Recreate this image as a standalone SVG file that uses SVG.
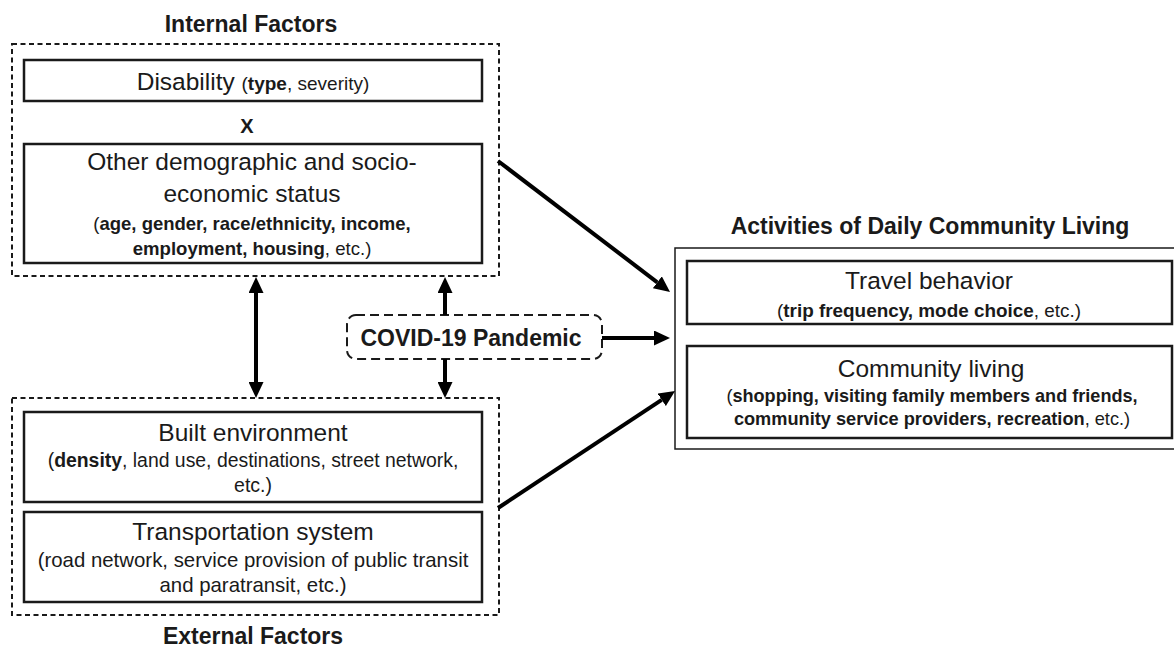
<svg xmlns="http://www.w3.org/2000/svg" width="1174" height="648" viewBox="0 0 1174 648">
<style>
text{font-family:"Liberation Sans",Arial,sans-serif;fill:#1a1a1a;text-anchor:middle}
.title{font-size:23px;font-weight:bold}
.big{font-size:24.5px}
.sm{font-size:19px}
.b{font-weight:bold}
.box{fill:#fff;stroke:#1a1a1a;stroke-width:2.5}
.grp{fill:none;stroke:#1a1a1a;stroke-width:2;stroke-dasharray:5 3.5}
.covid{fill:#fff;stroke:#1a1a1a;stroke-width:2;stroke-dasharray:9 5}
.outer{fill:#fff;stroke:#1a1a1a;stroke-width:1.5}
.arr{stroke:#000;stroke-width:4;fill:none;marker-end:url(#ah)}
.dbl{marker-start:url(#ah)}
</style>
<defs>
<marker id="ah" markerUnits="userSpaceOnUse" markerWidth="16" markerHeight="15" refX="0" refY="7.5" orient="auto-start-reverse">
<path d="M0,0 L16,7.5 L0,15 z" fill="#000"/>
</marker>
</defs>
<rect width="1174" height="648" fill="#fff"/>

<g id="internal-factors">
<text class="title" x="251" y="32">Internal Factors</text>
<rect class="grp" x="12" y="44" width="487" height="232"/>
</g>

<g id="disability">
<rect class="box" x="24" y="60" width="458" height="41"/>
<text x="253" y="90"><tspan class="big">Disability </tspan><tspan class="sm">(<tspan class="b">type</tspan>, severity)</tspan></text>
</g>

<g id="x-label">
<text class="b" x="247" y="133" style="font-size:20px">X</text>
</g>

<g id="demographic">
<rect class="box" x="24" y="144" width="458" height="119"/>
<text class="big" x="252" y="170">Other demographic and socio-</text>
<text class="big" x="252" y="202">economic status</text>
<text x="252" y="230" style="font-size:18.5px">(<tspan class="b">age, gender, race/ethnicity, income,</tspan></text>
<text x="252" y="255" style="font-size:18.6px"><tspan class="b">employment, housing</tspan>, etc.)</text>
</g>

<g id="external-factors">
<rect class="grp" x="12" y="398" width="487" height="217"/>
<text class="title" x="253" y="644">External Factors</text>
</g>

<g id="built-environment">
<rect class="box" x="24" y="412" width="458" height="90"/>
<text class="big" x="253" y="441">Built environment</text>
<text x="253" y="467" style="font-size:19.4px">(<tspan class="b">density</tspan>, land use, destinations, street network,</text>
<text x="253" y="492" style="font-size:19.5px">etc.)</text>
</g>

<g id="transportation">
<rect class="box" x="24" y="512" width="458" height="90"/>
<text class="big" x="253" y="540">Transportation system</text>
<text x="253" y="567" style="font-size:20.4px">(road network, service provision of public transit</text>
<text x="253" y="592" style="font-size:20.4px">and paratransit, etc.)</text>
</g>

<g id="covid">
<rect class="covid" x="347" y="315" width="255" height="44" rx="9"/>
<text class="b" x="471" y="346" style="font-size:23px">COVID-19 Pandemic</text>
</g>

<g id="activities">
<text class="title" x="930" y="234">Activities of Daily Community Living</text>
<rect class="outer" x="675" y="248" width="510" height="201"/>
</g>

<g id="travel-behavior">
<rect class="box" x="687" y="261" width="485" height="63"/>
<text class="big" x="929" y="289">Travel behavior</text>
<text x="929" y="317" style="font-size:18.9px">(<tspan class="b">trip frequency, mode choice</tspan>, etc.)</text>
</g>

<g id="community-living">
<rect class="box" x="687" y="346" width="485" height="92"/>
<text class="big" x="931" y="377">Community living</text>
<text x="932" y="402" style="font-size:18.1px">(<tspan class="b">shopping, visiting family members and friends,</tspan></text>
<text x="932" y="425" style="font-size:18.2px"><tspan class="b">community service providers, recreation</tspan>, etc.)</text>
</g>

<g id="connectors">
<line class="arr dbl" x1="256" y1="293" x2="256" y2="382"/>
<line class="arr" x1="445" y1="315" x2="445" y2="293"/>
<line class="arr" x1="445" y1="359" x2="445" y2="382"/>
<line class="arr" x1="602" y1="338" x2="654" y2="338"/>
<line class="arr" x1="498" y1="161" x2="657.3" y2="282.3"/>
<line class="arr" x1="498" y1="508" x2="661.7" y2="399.8"/>
</g>
</svg>
